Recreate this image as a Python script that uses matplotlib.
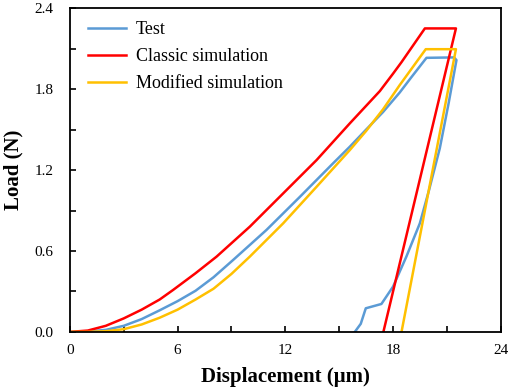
import matplotlib
matplotlib.use("Agg")
import matplotlib.pyplot as plt
from matplotlib.ticker import MultipleLocator

# Test curve (loading + unloading)
test_x = [0, 1, 2, 3, 4, 5, 6, 7, 8, 9.09, 10.0, 10.95, 12.8, 14.66, 15.59, 16.5, 17.44, 18.37, 19.0,
          19.86, 21.4, 21.53, 21.44, 21.1, 20.6, 20.0, 19.49, 18.74, 18.0, 17.35, 16.48, 16.2, 15.87]
test_y = [0, 0.003, 0.015, 0.045, 0.095, 0.16, 0.228, 0.305, 0.405, 0.533, 0.642, 0.756, 1.0, 1.25, 1.373,
          1.5, 1.63, 1.775, 1.885, 2.032, 2.035, 2.015, 1.95, 1.70, 1.36, 1.05, 0.805, 0.558, 0.336,
          0.207, 0.175, 0.06, 0.0]

# Classic simulation
classic_x = [0, 1, 2, 3, 4, 5, 5.75, 7, 8.17, 10.02, 11.88, 13.74, 15.59, 17.26, 18.0, 18.47, 19.77, 21.5, 17.46]
classic_y = [0, 0.01, 0.045, 0.10, 0.165, 0.24, 0.311, 0.435, 0.558, 0.78, 1.027, 1.274, 1.546, 1.785,
             1.915, 2.0, 2.25, 2.25, 0.0]

# Modified simulation
modified_x = [0, 1, 2, 3, 4, 5, 6, 7, 8, 9, 10.02, 11.88, 13.74, 15.59, 16.5, 17.44, 18.37, 19.82, 21.5, 18.47]
modified_y = [0, 0, 0.005, 0.02, 0.055, 0.105, 0.165, 0.24, 0.32, 0.43, 0.558, 0.805, 1.076, 1.348,
              1.49, 1.65, 1.83, 2.096, 2.096, 0.0]

plt.rcParams['font.family'] = ['Liberation Serif', 'DejaVu Serif']

fig = plt.figure(figsize=(5.1, 3.9), dpi=100)
ax = fig.add_axes([0.137, 0.149, 0.845, 0.830])

ax.plot(test_x, test_y, color="#5B9BD5", lw=1.8, label="Test")
ax.plot(classic_x, classic_y, color="#FF0000", lw=1.8, label="Classic simulation")
ax.plot(modified_x, modified_y, color="#FFC000", lw=1.8, label="Modified simulation")

ax.set_xlim(0, 24)
ax.set_ylim(0, 2.4)
ax.xaxis.set_major_locator(MultipleLocator(6))
ax.xaxis.set_minor_locator(MultipleLocator(3))
ax.yaxis.set_major_locator(MultipleLocator(0.6))
ax.yaxis.set_minor_locator(MultipleLocator(0.3))
ax.yaxis.set_major_formatter(plt.FormatStrFormatter("%.1f"))
ax.tick_params(which="both", direction="in", length=4, width=1.2, labelsize=11)
ax.tick_params(axis="y", which="major", pad=12)
ax.tick_params(axis="x", which="major", pad=9)
for s in ax.spines.values():
    s.set_linewidth(1.3)

ax.set_xlabel("Displacement (μm)", fontsize=15, fontweight="bold", labelpad=7)
ax.set_ylabel("Load (N)", fontsize=15, fontweight="bold", labelpad=8)

ax.legend(loc="upper left", bbox_to_anchor=(0.025, 0.982), borderaxespad=0, frameon=False,
          fontsize=13, handlelength=2.1, labelspacing=0.56, handletextpad=0.55)

fig.savefig("out.png", dpi=100)
